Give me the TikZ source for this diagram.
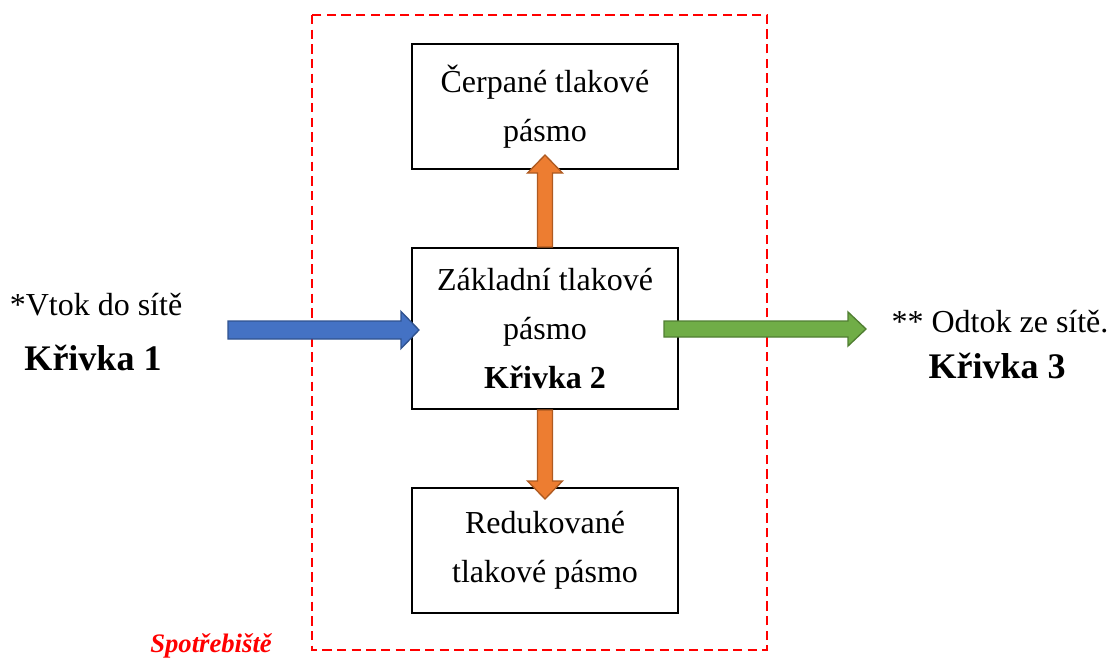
\documentclass[tikz,border=0pt]{standalone}
\usepackage{fontspec}
\setmainfont{Liberation Serif}
\usepackage{xcolor}
\usetikzlibrary{positioning,calc}

\definecolor{modra}{HTML}{4472C4}
\definecolor{modraokraj}{HTML}{2F528F}
\definecolor{oranzova}{HTML}{ED7D31}
\definecolor{oranzovaokraj}{HTML}{AE5A21}
\definecolor{zelena}{HTML}{70AD47}
\definecolor{zelenaokraj}{HTML}{507E32}

% style, from, to, half shaft width, half head width
\newcommand{\blockarrow}[5]{%
  \coordinate (ba-base) at ($(#3)!13.5pt!(#2)$);
  \filldraw[#1] ($(#2)!#4!90:(#3)$) -- ($(ba-base)!#4!90:(#3)$)
    -- ($(ba-base)!#5!90:(#3)$) -- (#3) -- ($(ba-base)!#5!-90:(#3)$)
    -- ($(ba-base)!#4!-90:(#3)$) -- ($(#2)!#4!-90:(#3)$) -- cycle;
}

\begin{document}
\begin{tikzpicture}[
    x=0.75pt, y=-0.75pt,
    node distance=166.5pt,
    box/.style={draw, rectangle, line width=1.5pt, minimum width=199.5pt, minimum height=93.75pt, align=center, font=\fontsize{24}{36.75}\selectfont},
    popis/.style={anchor=base, font=\fontsize{24}{36.75}\selectfont},
    krivka/.style={anchor=base, font=\fontsize{27}{32}\selectfont\bfseries},
    ramec/.style={draw=red, line width=1.5pt, dash pattern=on 7pt off 4pt},
    sipka/.style={line width=1pt, line join=miter}
]
    \useasboundingbox (0,0) rectangle (1109,660);

    \draw[ramec] (312,15) rectangle (767,650);

    \node[box, minimum height=120.75pt] (zakladni) at (545,328.5) {Základní tlakové\\pásmo\\\textbf{Křivka 2}};
    \node[box, above of=zakladni] (cerpane) {Čerpané tlakové\\pásmo};
    \node[box, below of=zakladni] (redukovane) {Redukované\\tlakové pásmo};

    \node[popis] (vtok) at (96,315) {*Vtok do sítě};
    \node[krivka] (krivka1) at (93,370) {Křivka 1};
    \node[popis] (odtok) at (1000,332) {** Odtok ze sítě.};
    \node[krivka] (krivka3) at (997,378) {Křivka 3};
    \node[anchor=base, text=red, font=\fontsize{20}{24}\selectfont\bfseries\itshape] (spotrebiste) at (211,652) {Spotřebiště};

    \coordinate (vtok-in) at (228,330);
    \coordinate (vtok-out) at ($(vtok-in -| zakladni.west)+(8,0)$);
    \coordinate (odtok-out) at (866,329);
    \coordinate (odtok-in) at ($(odtok-out -| zakladni.east)+(-15,0)$);
    \coordinate (nahoru) at ($(cerpane.south)+(0,-15)$);
    \coordinate (dolu) at ($(redukovane.north)+(0,12)$);

    \blockarrow{sipka, fill=modra, draw=modraokraj}{vtok-in}{vtok-out}{6.75pt}{13.9pt}
    \blockarrow{sipka, fill=zelena, draw=zelenaokraj}{odtok-in}{odtok-out}{6pt}{12.75pt}
    \blockarrow{sipka, fill=oranzova, draw=oranzovaokraj}{zakladni.north}{nahoru}{5.6pt}{13.1pt}
    \blockarrow{sipka, fill=oranzova, draw=oranzovaokraj}{zakladni.south}{dolu}{5.6pt}{13.1pt}
\end{tikzpicture}
\end{document}
